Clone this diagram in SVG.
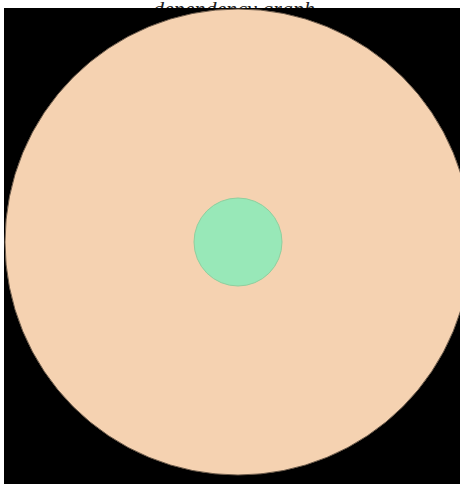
<svg xmlns="http://www.w3.org/2000/svg" width="460" height="484" viewBox="0 0 460 484">
  <style>
    .title { font-family: "Liberation Serif", "DejaVu Serif", serif; font-size: 22px; font-style: italic; fill: #222; text-anchor: middle; }
    .outer { fill: #f5d2b1; stroke: #6b5a4a; stroke-width: 1; }
    .inner { fill: #98e8b8; stroke: #8fcf9e; stroke-width: 1; }
  </style>
  <rect x="0" y="0" width="460" height="484" fill="#ffffff"/>
  <text class="title" x="234" y="16">dependency graph</text>
  <rect x="4" y="8" width="456" height="476" fill="#000000"/>
  <g id="connectors"></g>
  <g id="node-outer">
    <circle class="outer" cx="238" cy="242" r="233"/>
  </g>
  <g id="node-inner">
    <circle class="inner" cx="238" cy="242" r="44"/>
  </g>
</svg>
